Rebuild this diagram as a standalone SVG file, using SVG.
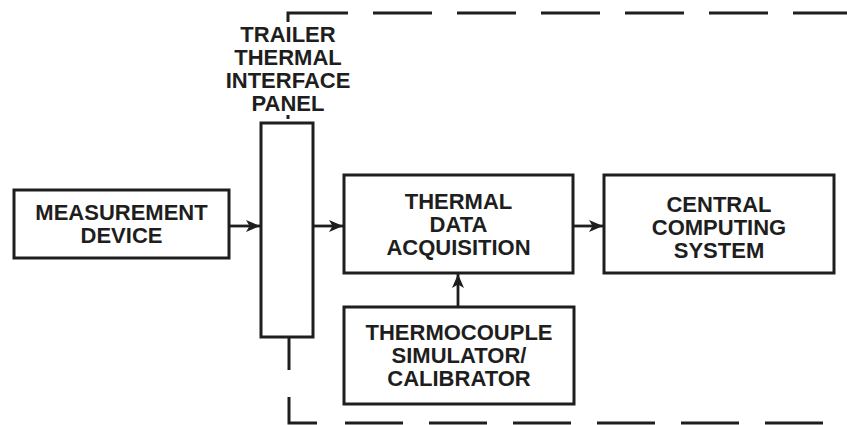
<svg xmlns="http://www.w3.org/2000/svg" width="847" height="425" viewBox="0 0 847 425">
<defs>
<marker id="ah" viewBox="0 0 14 12" refX="14" refY="6" markerWidth="14" markerHeight="12" markerUnits="userSpaceOnUse" orient="auto">
<path d="M0,0 L14,6 L0,12 L3.5,6 Z" fill="#1e1e1e"/>
</marker>
<style>
.box{fill:none;stroke:#1e1e1e;stroke-width:3}
.lbl{font-family:"Liberation Sans",Arial,sans-serif;font-weight:bold;font-size:22px;fill:#1e1e1e;text-anchor:middle}
.conn{fill:none;stroke:#1e1e1e;stroke-width:2.8}
.dash{fill:none;stroke:#1e1e1e;stroke-width:3}
</style>
</defs>
<rect width="847" height="425" fill="#ffffff"/>
<g id="boundary">
<path class="dash" d="M288,22 V13 H348"/>
<path class="dash" d="M373,13 H847" stroke-dasharray="59 25"/>
<path class="dash" d="M288,115 V119"/>
<path class="dash" d="M289,337 V370"/>
<path class="dash" d="M289,397 V423 H317"/>
<path class="dash" d="M345,423 H826" stroke-dasharray="58 26"/>
</g>
<g id="measurement">
<rect class="box" x="14" y="190" width="215" height="68"/>
<text class="lbl" x="121.5" y="220">MEASUREMENT<tspan x="121.5" dy="23">DEVICE</tspan></text>
</g>
<g id="panel">
<rect class="box" x="261" y="123" width="52" height="214"/>
<text class="lbl" x="288" y="42">TRAILER<tspan x="288" dy="23">THERMAL</tspan><tspan x="288" dy="23">INTERFACE</tspan><tspan x="288" dy="23">PANEL</tspan></text>
</g>
<g id="daq">
<rect class="box" x="344" y="175" width="229" height="98"/>
<text class="lbl" x="458.5" y="209">THERMAL<tspan x="458.5" dy="23">DATA</tspan><tspan x="458.5" dy="23">ACQUISITION</tspan></text>
</g>
<g id="central">
<rect class="box" x="604" y="175" width="230" height="98"/>
<text class="lbl" x="719" y="212">CENTRAL<tspan x="719" dy="23">COMPUTING</tspan><tspan x="719" dy="23">SYSTEM</tspan></text>
</g>
<g id="thermocouple">
<rect class="box" x="344" y="307" width="230" height="97"/>
<text class="lbl" x="459" y="340">THERMOCOUPLE<tspan x="459" dy="23">SIMULATOR/</tspan><tspan x="459" dy="23">CALIBRATOR</tspan></text>
</g>
<g id="connectors">
<line class="conn" x1="229" y1="226" x2="260" y2="226" marker-end="url(#ah)"/>
<line class="conn" x1="313" y1="226" x2="343" y2="226" marker-end="url(#ah)"/>
<line class="conn" x1="573" y1="226" x2="603" y2="226" marker-end="url(#ah)"/>
<line class="conn" x1="458" y1="307" x2="458" y2="274" marker-end="url(#ah)"/>
</g>
</svg>
